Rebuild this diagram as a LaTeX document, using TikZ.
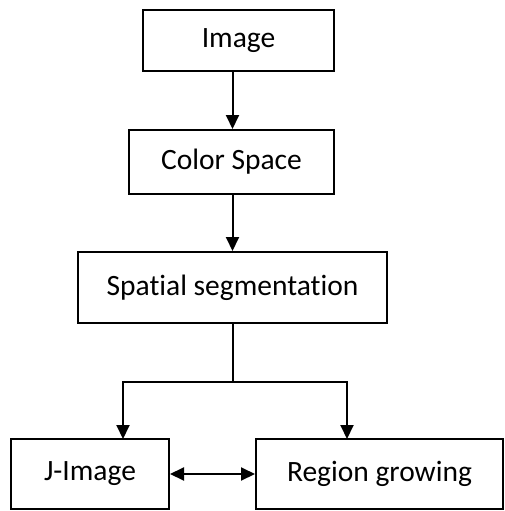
\documentclass[tikz,border=0pt]{standalone}
\usepackage{fontspec}
\setmainfont{Carlito}[Ligatures={NoCommon}]
\usetikzlibrary{arrows.meta,positioning,calc}

\begin{document}
\begin{tikzpicture} [x=1pt, y=-1pt, >={Triangle[length=14pt,width=13pt]}, line width=2pt,
  box/.style={draw, rectangle, inner sep=0pt, font=\fontsize{29.5}{34}\selectfont}]
\useasboundingbox (0,0) rectangle (504,511);
\node[box, minimum width=191pt, minimum height=61pt] (img) at (238.5,40.5) {Image};
\node[box, minimum width=205pt, minimum height=64pt] (cs) at (231.5,162) {Color Space};
\node[box, minimum width=309pt, minimum height=71pt] (seg) at (232.5,287.5) {Spatial segmentation};
\node[box, minimum width=158pt, minimum height=70pt] (jimg) at (90,474) {J-Image};
\node[box, minimum width=247pt, minimum height=70pt] (rg) at (379.5,474) {Region growing};
\coordinate (split) at (232.5,382);
\coordinate (jtop) at (123,439);
\coordinate (rtop) at (347,439);
\draw[->] (img.south -| seg.north) -- (cs.north -| seg.north);
\draw[->] (cs.south -| seg.north) -- (seg.north);
\draw (seg.south) -- (split);
\draw[->] (split) -| (jtop);
\draw[->] (split) -| (rtop);
\draw[<->] (jimg) -- (rg);
\end{tikzpicture}
\end{document}
